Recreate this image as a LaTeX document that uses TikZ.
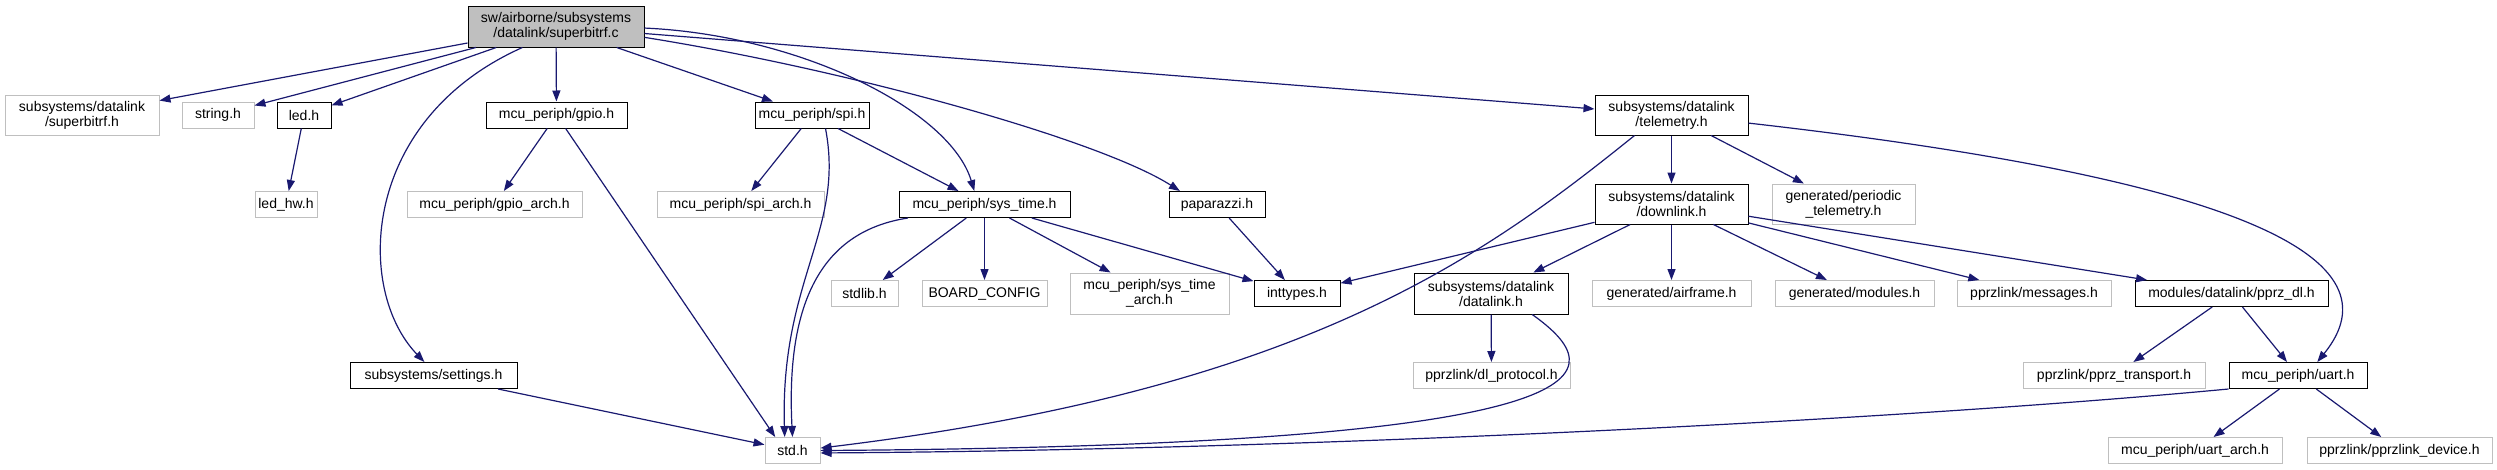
\documentclass[tikz,border=0pt]{standalone}
\usepackage{fontspec}
\setmainfont{Liberation Sans}
\usepackage{xcolor}
\usetikzlibrary{arrows.meta}

\definecolor{edgeblue}{HTML}{191970}
\definecolor{boxgray}{HTML}{BFBFBF}

\begin{document}
\begin{tikzpicture}[x=1pt, y=-1pt, >={Triangle[length=11pt,width=8pt]}]
    \tikzstyle{file}=[rectangle, align=center, inner sep=1pt, minimum height=26, font=\fontsize{14}{15}\selectfont]
    \tikzstyle{hdr}=[file, draw=black, line width=1pt]
    \tikzstyle{ext}=[file, draw=boxgray, line width=1pt]
    \tikzstyle{dep}=[->, draw=edgeblue, line width=1.2pt]

    \useasboundingbox (0,0) rectangle (2497,469);

    \node[hdr, fill=boxgray, minimum width=176, minimum height=41] (root) at (556,26.5) {sw/airborne/subsystems\\/datalink/superbitrf.c};

    \node[ext, minimum width=154, minimum height=40] (superbitrf) at (82,115) {subsystems/datalink\\/superbitrf.h};
    \node[ext, minimum width=72] (string) at (218,115) {string.h};
    \node[hdr, minimum width=54] (led) at (304,115) {led.h};
    \node[hdr, minimum width=141] (gpio) at (556.5,115) {mcu\_periph/gpio.h};
    \node[hdr, minimum width=114] (spi) at (812,115) {mcu\_periph/spi.h};
    \node[hdr, minimum width=153, minimum height=40] (telemetry) at (1671.5,115) {subsystems/datalink\\/telemetry.h};

    \node[ext, minimum width=62] (ledhw) at (286,204.5) {led\_hw.h};
    \node[ext, minimum width=175] (gpioarch) at (494.5,204.5) {mcu\_periph/gpio\_arch.h};
    \node[ext, minimum width=167] (spiarch) at (740.5,204.5) {mcu\_periph/spi\_arch.h};
    \node[hdr, minimum width=171] (systime) at (984.5,204.5) {mcu\_periph/sys\_time.h};
    \node[hdr, minimum width=96] (paparazzi) at (1217,204.5) {paparazzi.h};
    \node[hdr, minimum width=153, minimum height=40] (downlink) at (1671.5,204) {subsystems/datalink\\/downlink.h};
    \node[ext, minimum width=143, minimum height=40] (periodic) at (1843.5,204) {generated/periodic\\\_telemetry.h};

    \node[ext, minimum width=67] (stdlib) at (864.5,293.5) {stdlib.h};
    \node[ext, minimum width=125] (boardcfg) at (984.5,293.5) {BOARD\_CONFIG};
    \node[ext, minimum width=159, minimum height=41] (systimearch) at (1149.5,293.5) {mcu\_periph/sys\_time\\\_arch.h};
    \node[hdr, minimum width=86] (inttypes) at (1297,293.5) {inttypes.h};
    \node[hdr, minimum width=154, minimum height=41] (datalink) at (1491,293.5) {subsystems/datalink\\/datalink.h};
    \node[ext, minimum width=159] (airframe) at (1671.5,293.5) {generated/airframe.h};
    \node[ext, minimum width=159] (modules) at (1854.5,293.5) {generated/modules.h};
    \node[ext, minimum width=154] (messages) at (2034,293.5) {pprzlink/messages.h};
    \node[hdr, minimum width=193] (pprzdl) at (2231.5,293.5) {modules/datalink/pprz\_dl.h};

    \node[hdr, minimum width=167] (settings) at (433.5,375.5) {subsystems/settings.h};
    \node[ext, minimum width=157] (dlprotocol) at (1491.5,375.5) {pprzlink/dl\_protocol.h};
    \node[ext, minimum width=182] (transport) at (2114,375.5) {pprzlink/pprz\_transport.h};
    \node[hdr, minimum width=138] (uart) at (2298,375.5) {mcu\_periph/uart.h};

    \node[ext, minimum width=55] (std) at (792.5,450.5) {std.h};
    \node[ext, minimum width=174] (uartarch) at (2195,450.5) {mcu\_periph/uart\_arch.h};
    \node[ext, minimum width=185] (device) at (2399.5,450.5) {pprzlink/pprzlink\_device.h};

    \draw[dep] (root) -- (superbitrf);
    \draw[dep] (root) -- (string);
    \draw[dep] (root) -- (led);
    \draw[dep] (root.212) .. controls (360,120) and (355,290) .. (settings.124);
    \draw[dep] (root) -- (gpio);
    \draw[dep] (root) -- (spi);
    \draw[dep] (root.359) .. controls (800,35) and (950,110) .. (systime.127);
    \draw[dep] (root.353) .. controls (850,70) and (1100,140) .. (paparazzi.160);
    \draw[dep] (root) -- (telemetry);

    \draw[dep] (led) -- (ledhw);
    \draw[dep] (gpio) -- (gpioarch);
    \draw[dep] (gpio) -- (std.142);
    \draw[dep] (spi) -- (spiarch);
    \draw[dep] (spi) -- (systime);
    \draw[dep] (spi.315) .. controls (845,230) and (780,280) .. (std.120);
    \draw[dep] (settings) -- (std);

    \draw[dep] (systime.190) .. controls (830,230) and (785,290) .. (std.90);
    \draw[dep] (systime) -- (stdlib);
    \draw[dep] (systime) -- (boardcfg);
    \draw[dep] (systime) -- (systimearch);
    \draw[dep] (systime) -- (inttypes);
    \draw[dep] (paparazzi) -- (inttypes);

    \draw[dep] (telemetry) -- (downlink);
    \draw[dep] (telemetry) -- (periodic);
    \draw[dep] (telemetry.209) .. controls (1480,260) and (1300,390) .. (std.5);
    \draw[dep] (telemetry.354) .. controls (2250,180) and (2400,260) .. (uart.35);

    \draw[dep] (downlink) -- (inttypes);
    \draw[dep] (downlink) -- (datalink);
    \draw[dep] (downlink) -- (airframe);
    \draw[dep] (downlink) -- (modules);
    \draw[dep] (downlink) -- (messages);
    \draw[dep] (downlink) -- (pprzdl);

    \draw[dep] (datalink) -- (dlprotocol);
    \draw[dep] (datalink.333) .. controls (1610,370) and (1640,445) .. (std.east);
    \draw[dep] (pprzdl) -- (transport);
    \draw[dep] (pprzdl) -- (uart);
    \draw[dep] (uart.south west) .. controls (1900,420) and (1300,450) .. (std.355);
    \draw[dep] (uart) -- (uartarch);
    \draw[dep] (uart) -- (device);
\end{tikzpicture}
\end{document}
